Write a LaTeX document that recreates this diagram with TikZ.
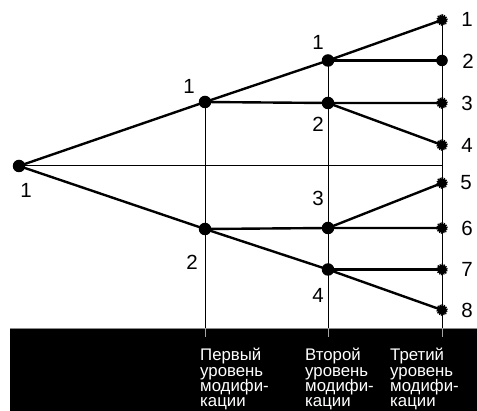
\documentclass[tikz,border=0pt]{standalone}
\usepackage{fontspec}
\setmainfont{Liberation Sans}
\begin{document}
\begin{tikzpicture}[x=1pt,y=-1pt,
  thin line/.style={line width=1pt,black},
  thick line/.style={line width=2.4pt,black,line cap=round},
  bigdot/.style={circle,fill=black,minimum size=12.5pt,inner sep=0pt},
  leafmark/.style={circle,draw=black,fill=black,line width=2.2pt,dash pattern=on 1.2pt off 0.9pt,minimum size=9.5pt,inner sep=0pt,
    append after command={\pgfextra{\draw[white,line width=0.8pt,dash pattern=on 0.8pt off 1.4pt] (\tikzlastnode.center) circle (2.6pt);}}},
  num/.style={font=\fontsize{20.5}{20}\selectfont,inner sep=0pt},
  bandtxt/.style={font=\fontsize{16.8}{15}\selectfont,text=white,inner sep=0pt,anchor=base west},
  tick/.style={line width=1pt,black!35}]
\useasboundingbox (0,0) rectangle (477,411);
\fill[white] (0,0) rectangle (477,411);
% band
\fill[black] (10,328) rectangle (477,411);
\draw[line width=0.8pt,black!45] (10,328) -- (477,328);
% coordinates
\coordinate (r) at (19,166);
\coordinate (a1) at (205,102);
\coordinate (a2) at (205,229);
\coordinate (b1) at (328,60.5);
\coordinate (b2) at (328,103);
\coordinate (b3) at (328,228);
\coordinate (b4) at (328,269.5);
\coordinate (l1) at (442,20);
\coordinate (l2) at (442,60.5);
\coordinate (l3) at (442,103);
\coordinate (l4) at (442,145);
\coordinate (l5) at (442,183);
\coordinate (l6) at (442,228);
\coordinate (l7) at (442,269.5);
\coordinate (l8) at (442,310);
\coordinate (mid) at (442,166);
\coordinate (va) at (205,328);
\coordinate (vb) at (328,328);
\coordinate (vc) at (442,328);
\coordinate (ta) at (205,337);
\coordinate (tb) at (328,337);
\coordinate (tc) at (442,337);
% thin lines
\draw[thin line] (r) -- (mid);
\draw[thin line] (a1) -- (va);
\draw[thin line] (b1) -- (vb);
\draw[thin line] (l1) -- (vc);
\draw[tick] (va) -- (ta);
\draw[tick] (vb) -- (tb);
\draw[tick] (vc) -- (tc);
% thick lines
\draw[thick line] (r) -- (a1) -- (b1) -- (l1);
\draw[thick line] (r) -- (a2) -- (b4) -- (l8);
\draw[thick line] (b1) -- (l2);
\draw[thick line] (a1) -- (b2) -- (l3);
\draw[thick line] (b2) -- (l4);
\draw[thick line] (a2) -- (b3) -- (l6);
\draw[thick line] (b3) -- (l5);
\draw[thick line] (b4) -- (l7);
% dots
\node[bigdot] (rn) at (r) {};
\node[bigdot] (a1n) at (a1) {};
\node[bigdot] (a2n) at (a2) {};
\node[bigdot] (b1n) at (b1) {};
\node[bigdot] (b2n) at (b2) {};
\node[bigdot] (b3n) at (b3) {};
\node[bigdot] (b4n) at (b4) {};
\node[leafmark] (l1n) at (l1) {};
\node[bigdot,minimum size=11.5pt] (l2n) at (l2) {};
\node[leafmark] (l3n) at (l3) {};
\node[leafmark] (l4n) at (l4) {};
\node[leafmark] (l5n) at (l5) {};
\node[leafmark] (l6n) at (l6) {};
\node[leafmark] (l7n) at (l7) {};
\node[leafmark] (l8n) at (l8) {};
% labels
\node[num] (rl) at (26,190) {1};
\node[num] (a1l) at (189,86) {1};
\node[num] (a2l) at (192,262) {2};
\node[num] (b1l) at (318,42) {1};
\node[num] (b2l) at (318,124) {2};
\node[num] (b3l) at (318,198) {3};
\node[num] (b4l) at (318,295) {4};
\node[num] (l1l) at (467,19) {1};
\node[num] (l2l) at (468,61) {2};
\node[num] (l3l) at (467,103) {3};
\node[num] (l4l) at (467,145) {4};
\node[num] (l5l) at (466,183) {5};
\node[num] (l6l) at (467,228) {6};
\node[num] (l7l) at (467,269) {7};
\node[num] (l8l) at (467,310) {8};
% band text
\node[bandtxt] (t11) at (200,361) {Первый};
\node[bandtxt] (t12) at (200,376.5) {уровень};
\node[bandtxt] (t13) at (200,392) {модифи-};
\node[bandtxt] (t14) at (200,407) {кации};
\node[bandtxt] (t21) at (305,361) {Второй};
\node[bandtxt] (t22) at (305,376.5) {уровень};
\node[bandtxt] (t23) at (305,392) {модифи-};
\node[bandtxt] (t24) at (305,407) {кации};
\node[bandtxt] (t31) at (390,361) {Третий};
\node[bandtxt] (t32) at (390,376.5) {уровень};
\node[bandtxt] (t33) at (390,392) {модифи-};
\node[bandtxt] (t34) at (390,407) {кации};
\end{tikzpicture}
\end{document}
